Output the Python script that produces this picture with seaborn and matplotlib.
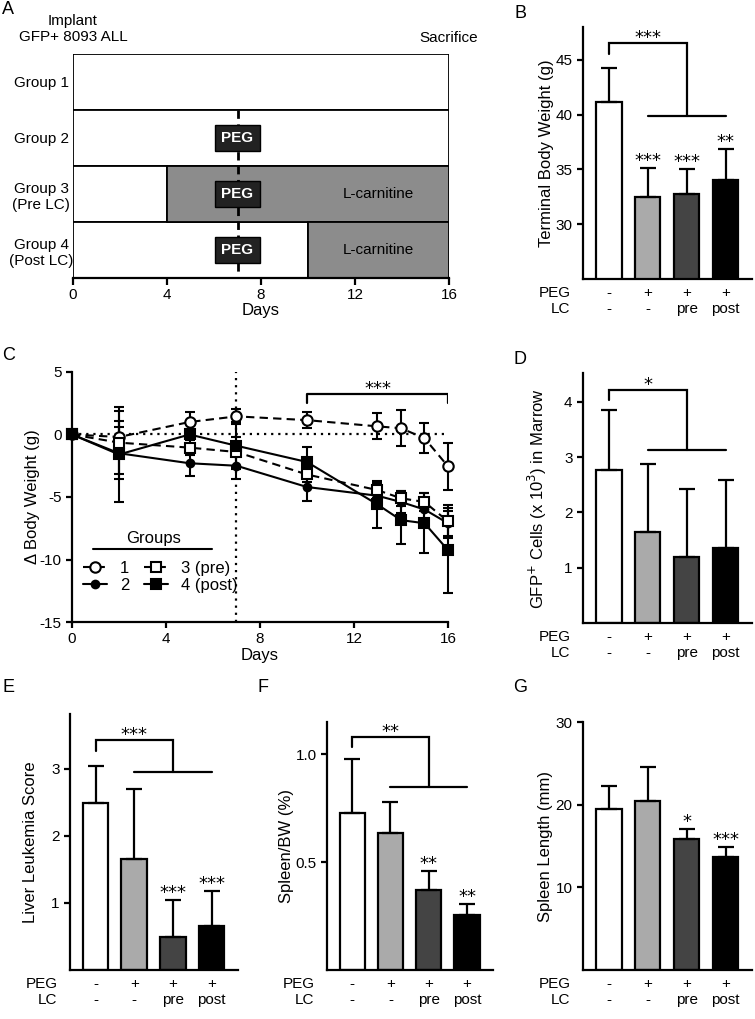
import numpy as np
import pandas as pd
import matplotlib
matplotlib.use("Agg")
import matplotlib.pyplot as plt
import seaborn as sns
from matplotlib.lines import Line2D

# ---------------- data ----------------
# Panel A : treatment schedule
group_labels = ["Group 1", "Group 2", "Group 3\n(Pre LC)", "Group 4\n(Post LC)"]
lc_start = [np.nan, np.nan, 4, 10]
peg_given = [False, True, True, True]
study_end = 16
peg_day = 7
schedule_ticks = [0, 4, 8, 12, 16]

# shared bar-panel condition labels
peg_row = ["-", "+", "+", "+"]
lc_row = ["-", "-", "pre", "post"]
bar_colors = ["#ffffff", "#aaaaaa", "#444444", "#000000"]

# Panel B : terminal body weight
weight_mean = [41.2, 32.5, 32.8, 34.0]
weight_err = [3.1, 2.6, 2.2, 2.9]
weight_stars = ["", "***", "***", "**"]

# Panel C : delta body weight over time
days_c = [0, 2, 5, 7, 10, 13, 14, 15, 16]
g1_mean = [0, -0.2, 1.0, 1.45, 1.15, 0.65, 0.5, -0.3, -2.55]
g1_err = [0, 1.3, 0.8, 0.6, 0.65, 1.05, 1.45, 1.2, 1.9]
g2_mean = [0, -1.5, -2.3, -2.5, -4.2, -4.9, -5.4, -6.0, -7.1]
g2_err = [0, 2.1, 1.0, 1.1, 1.1, 0.7, 0.9, 0.8, 1.0]
g3_mean = [0, -0.65, -1.05, -1.4, -3.2, -4.45, -5.1, -5.4, -6.95]
g3_err = [0, 2.5, 0.6, 1.2, 0.6, 0.6, 0.6, 0.7, 1.3]
g4_mean = [0, -1.6, 0.0, -0.9, -2.2, -5.6, -6.85, -7.1, -9.25]
g4_err = [0, 3.8, 0.4, 1.9, 1.2, 1.9, 1.9, 2.4, 3.4]
legend_names = ["1", "2", "3 (pre)", "4 (post)"]

# Panel D : GFP+ cells in marrow
gfp_mean = [2.76, 1.64, 1.19, 1.35]
gfp_err = [1.09, 1.23, 1.23, 1.24]
gfp_stars = ["", "", "", ""]

# Panel E : liver leukemia score
liver_mean = [2.49, 1.66, 0.49, 0.65]
liver_err = [0.56, 1.04, 0.56, 0.53]
liver_stars = ["", "", "***", "***"]

# Panel F : spleen / body weight
spleen_bw_mean = [0.727, 0.634, 0.37, 0.256]
spleen_bw_err = [0.25, 0.146, 0.088, 0.051]
spleen_bw_stars = ["", "", "**", "**"]

# Panel G : spleen length
spleen_len_mean = [19.5, 20.4, 15.9, 13.65]
spleen_len_err = [2.8, 4.2, 1.2, 1.25]
spleen_len_stars = ["", "", "*", "***"]

# ---------------- style ----------------
sns.set_style("ticks")
plt.rcParams["font.family"] = ["Liberation Sans", "DejaVu Sans"]
plt.rcParams.update({
    "axes.unicode_minus": False,
    "axes.linewidth": 1.6,
    "axes.edgecolor": "black",
    "axes.labelcolor": "black",
    "text.color": "black",
    "xtick.color": "black",
    "ytick.color": "black",
    "xtick.major.width": 1.6,
    "ytick.major.width": 1.6,
    "xtick.major.size": 4,
    "ytick.major.size": 4,
    "xtick.labelsize": 11,
    "ytick.labelsize": 11,
    "axes.labelsize": 12,
})

W, H = 755, 1019
fig = plt.figure(figsize=(W / 100, H / 100), dpi=100)


def rect(l, t, r, b):
    return [l / W, 1 - b / H, (r - l) / W, (b - t) / H]


STAR_FONT = dict(family="DejaVu Sans", fontsize=13)

# ---------------- Panel A ----------------
axA = fig.add_axes(rect(73, 54, 449, 278))
rows = np.arange(len(group_labels))
lc_arr = np.array(lc_start, dtype=float)
white_w = np.where(np.isnan(lc_arr), study_end, lc_arr)
axA.barh(rows, white_w, left=0, height=0.985, color="white",
         edgecolor="black", linewidth=1.3, zorder=2)
has_lc = ~np.isnan(lc_arr)
axA.barh(rows[has_lc], study_end - lc_arr[has_lc], left=lc_arr[has_lc],
         height=0.985, color="#8c8c8c", edgecolor="black", linewidth=1.3, zorder=2)
first_peg = rows[np.array(peg_given)].min()
axA.vlines(peg_day, first_peg - 0.5, rows.max() + 0.5, colors="black",
           linestyles=(0, (3, 2)), linewidth=2, zorder=3)
for i, g in zip(rows, peg_given):
    if g:
        axA.text(peg_day, i, "PEG", ha="center", va="center", color="white",
                 fontweight="bold", fontsize=11, zorder=5,
                 bbox=dict(boxstyle="square,pad=0.42", fc="#222222", ec="black", lw=1))
lc_label_x = (np.nanmax(lc_arr) + study_end) / 2
for i in rows[has_lc]:
    axA.text(lc_label_x, i, "L-carnitine", ha="center", va="center", fontsize=11, zorder=4)
axA.set_xlim(0, study_end)
axA.set_ylim(rows.max() + 0.5, rows.min() - 0.5)
axA.set_yticks(rows)
axA.set_yticklabels(group_labels, fontsize=11)
for lab in axA.get_yticklabels():
    lab.set_ha("center")
axA.tick_params(axis="y", length=0, pad=23)
axA.set_xticks(schedule_ticks)
axA.tick_params(axis="x", length=5, pad=2)
axA.set_xlabel("Days", labelpad=1)
for s in ["left", "top", "right"]:
    axA.spines[s].set_visible(False)

fig.text(73 / W, 1 - 29 / H, "Implant\nGFP+ 8093 ALL", ha="center", va="center", fontsize=11)
fig.text(449 / W, 1 - 38 / H, "Sacrifice", ha="center", va="center", fontsize=11)


# ---------------- bar panel helper ----------------
def bar_panel(ax, means, errs, stars, ylim, yticks, ylabel, label_x,
              bracket=None, yticklabels=None):
    cond = [f"{p}\n{l}" for p, l in zip(peg_row, lc_row)]
    df = pd.DataFrame({"cond": cond, "val": means})
    sns.barplot(data=df, x="cond", y="val", hue="cond", palette=bar_colors,
                legend=False, edgecolor="black", linewidth=1.6, width=0.66,
                saturation=1, errorbar=None, ax=ax, zorder=2)
    x = np.arange(len(means))
    ax.errorbar(x, means, yerr=[np.zeros(len(errs)), errs], fmt="none",
                ecolor="black", elinewidth=1.6, capsize=5.5, capthick=1.6, zorder=3)
    for i, s in enumerate(stars):
        if s:
            ax.annotate(s, (i, means[i] + errs[i]), xytext=(0, 1.5),
                        textcoords="offset points", ha="center", va="baseline", **STAR_FONT)
    if bracket is not None:
        top, drop, low, label = bracket
        ax.plot([0, 0, 2, 2], [drop, top, top, low], color="black", lw=1.6,
                solid_joinstyle="miter", zorder=3)
        ax.plot([1, 3], [low, low], color="black", lw=1.6, zorder=3)
        ax.annotate(label, (1, top), xytext=(0, 0), textcoords="offset points",
                    ha="center", va="baseline", **STAR_FONT)
    ax.set_xlim(-0.66, 3.68)
    ax.set_ylim(*ylim)
    ax.set_yticks(yticks)
    if yticklabels is not None:
        ax.set_yticklabels(yticklabels)
    ax.tick_params(axis="x", length=0, pad=5, labelsize=11)
    ax.set_xlabel("")
    ax.set_ylabel(ylabel)
    ax.yaxis.set_label_coords(label_x, 0.5)
    ax.annotate("PEG\nLC", xy=(0, 0), xycoords="axes fraction", xytext=(-9, -5),
                textcoords="offset points", ha="right", va="top",
                multialignment="right", fontsize=11)
    sns.despine(ax=ax)


# ---------------- Panel B ----------------
axB = fig.add_axes(rect(583, 27, 752, 279))
bar_panel(axB, weight_mean, weight_err, weight_stars, (25, 48), [30, 35, 40, 45],
          "Terminal Body Weight (g)", -0.17, bracket=(46.5, 45.5, 39.9, "***"))

# ---------------- Panel C ----------------
axC = fig.add_axes(rect(72, 372, 448, 622))
axC.axhline(0, color="black", ls=(0, (1, 2.2)), lw=1.6, zorder=1)
axC.axvline(peg_day, color="black", ls=(0, (1, 2.2)), lw=1.6, zorder=1)
series = [
    (g1_mean, g1_err, dict(marker="o", markersize=7.5, markerfacecolor="white", linestyle=(0, (4, 2.5)))),
    (g2_mean, g2_err, dict(marker="o", markersize=5.5, markerfacecolor="black", linestyle="-")),
    (g3_mean, g3_err, dict(marker="s", markersize=7, markerfacecolor="white", linestyle=(0, (4, 2.5)))),
    (g4_mean, g4_err, dict(marker="s", markersize=6.5, markerfacecolor="black", linestyle="-")),
]
handles = []
for (m, e, st) in series:
    cont = axC.errorbar(days_c, m, yerr=e, fmt="none", ecolor="black", elinewidth=1.5,
                        capsize=3.5, capthick=1.5, zorder=2)
    for art in list(cont.lines[1]) + list(cont.lines[2]):
        art.set_clip_on(False)
    sns.lineplot(x=days_c, y=m, ax=axC, color="black", linewidth=1.5,
                 markeredgecolor="black", markeredgewidth=1.5, zorder=3,
                 clip_on=False, errorbar=None, **st)
    handles.append(Line2D([], [], color="black", lw=1.5, markeredgecolor="black",
                          markeredgewidth=1.5, **st))
axC.plot([10, 10, 16, 16], [2.5, 3.2, 3.2, 2.5], color="black", lw=1.6, zorder=3)
axC.annotate("***", (13, 3.2), xytext=(0, 0), textcoords="offset points",
             ha="center", va="baseline", **STAR_FONT)
axC.set_xlim(0, 16)
axC.set_ylim(-15, 5)
axC.set_xticks([0, 4, 8, 12, 16])
axC.set_yticks([-15, -10, -5, 0, 5])
axC.set_xlabel("Days", labelpad=1)
axC.set_ylabel("\u0394 Body Weight (g)")
axC.yaxis.set_label_coords(-0.084, 0.5)
sns.despine(ax=axC)
leg = axC.legend(handles, legend_names, ncol=2, frameon=False, fontsize=12,
                 loc="upper left", bbox_to_anchor=(0.03, 0.245), borderpad=0,
                 borderaxespad=0, handlelength=1.4, handletextpad=0.8,
                 columnspacing=0.9, labelspacing=0.15)
axC.text(0.216, 0.332, "Groups", transform=axC.transAxes, ha="center", va="center", fontsize=12)
axC.plot([0.056, 0.372], [0.292, 0.292], transform=axC.transAxes, color="black", lw=1.5)

# ---------------- Panel D ----------------
axD = fig.add_axes(rect(583, 373, 752, 623))
bar_panel(axD, gfp_mean, gfp_err, gfp_stars, (0, 4.52), [1, 2, 3, 4],
          "GFP$^{+}$ Cells (x 10$^{3}$) in Marrow", -0.2, bracket=(4.22, 4.04, 3.13, "*"))

# ---------------- Panel E ----------------
axE = fig.add_axes(rect(70, 714, 238, 970))
bar_panel(axE, liver_mean, liver_err, liver_stars, (0, 3.82), [1, 2, 3],
          "Liver Leukemia Score", -0.193, bracket=(3.43, 3.27, 2.95, "***"))

# ---------------- Panel F ----------------
axF = fig.add_axes(rect(327, 722, 493, 970))
bar_panel(axF, spleen_bw_mean, spleen_bw_err, spleen_bw_stars, (0, 1.15), [0.5, 1.0],
          "Spleen/BW (%)", -0.196, bracket=(1.08, 1.035, 0.85, "**"),
          yticklabels=["0.5", "1.0"])

# ---------------- Panel G ----------------
axG = fig.add_axes(rect(583, 722, 752, 970))
bar_panel(axG, spleen_len_mean, spleen_len_err, spleen_len_stars, (0, 30), [10, 20, 30],
          "Spleen Length (mm)", -0.18)

# ---------------- panel letters ----------------
for letter, (px, py) in {"A": (8, 10), "B": (520, 13), "C": (9, 356), "D": (520, 359),
                         "E": (8, 688), "F": (263, 688), "G": (520, 688)}.items():
    fig.text(px / W, 1 - py / H, letter, ha="center", va="center", fontsize=13)

fig.savefig("out.png", dpi=100, facecolor="white")
